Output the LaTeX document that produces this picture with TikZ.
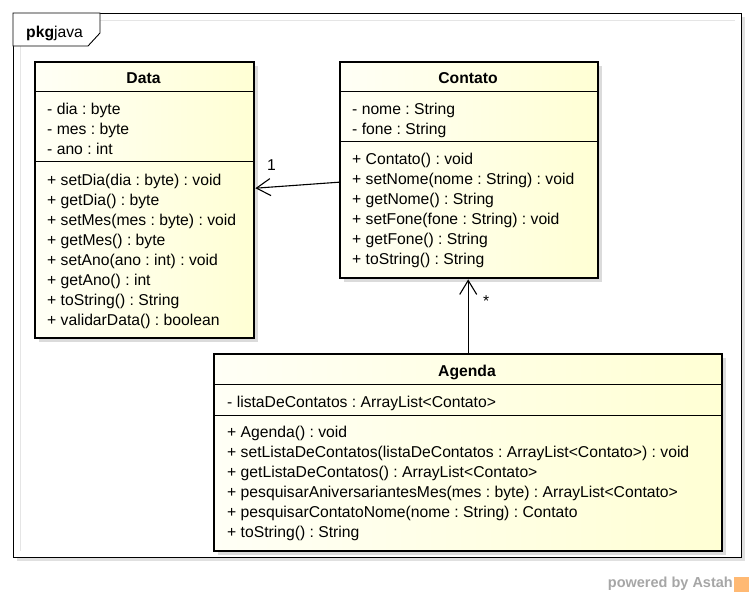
\documentclass[tikz,border=0pt]{standalone}
\usepackage{fontspec}
\setmainfont{Liberation Sans}
\usetikzlibrary{arrows.meta}
\frenchspacing

\begin{document}
\begin{tikzpicture}[x=1pt,y=-1pt,
  classbox/.style={draw=black,line width=2.4pt,left color=clsA,right color=clsB,anchor=north west,inner sep=0pt},
  member/.style={anchor=base west,inner sep=0pt,font=\fontsize{15.7}{18}\selectfont},
  ctitle/.style={anchor=base,inner sep=0pt,font=\fontsize{15.7}{18}\selectfont\bfseries},
  assoc/.style={line width=1.1pt,-{Straight Barb[length=14pt,width=17pt,line width=1.1pt]}}]
\definecolor{clsA}{RGB}{255,255,246}
\definecolor{clsB}{RGB}{255,255,212}
\useasboundingbox (0,0) rectangle (754,597);
% package frame
\fill[black!12] (17,17) rectangle (745,561);
\draw[line width=0.9pt,fill=white] (13,13) rectangle (741,557);
\draw[black!10] (100,20) -- (735,20);
\draw[black!10] (20,46) -- (20,551);
\draw[line width=0.9pt,fill=white] (13,13) -- (100,13) -- (100,33) -- (88,46) -- (13,46) -- cycle;
\node[anchor=base west,inner sep=0pt,font=\fontsize{15.7}{18}\selectfont] (pkg) at (26,37) {\textbf{pkg}java};
% Data
\fill[black!14] (39,66) rectangle (258,342);
\node[classbox,minimum width=219pt,minimum height=276pt] (data) at (34,61) {};
\node[ctitle] (dataT) at (143.5,83) {Data};
\draw[line width=0.9pt] (34,91) -- (253,91);
\draw[line width=0.9pt] (34,161) -- (253,161);
\node[member] (dataA1) at (47,114) {- dia : byte};
\node[member] (dataA2) at (47,134) {- mes : byte};
\node[member] (dataA3) at (47,154) {- ano : int};
\node[member] (dataM1) at (47,185) {+ setDia(dia : byte) : void};
\node[member] (dataM2) at (47,205) {+ getDia() : byte};
\node[member] (dataM3) at (47,225) {+ setMes(mes : byte) : void};
\node[member] (dataM4) at (47,245) {+ getMes() : byte};
\node[member] (dataM5) at (47,265) {+ setAno(ano : int) : void};
\node[member] (dataM6) at (47,285) {+ getAno() : int};
\node[member] (dataM7) at (47,305) {+ toString() : String};
\node[member] (dataM8) at (47,325) {+ validarData() : boolean};
% Contato
\fill[black!14] (344,66) rectangle (602,282);
\node[classbox,minimum width=258pt,minimum height=216pt] (contato) at (339,61) {};
\node[ctitle] (contatoT) at (468,83) {Contato};
\draw[line width=0.9pt] (339,91) -- (597,91);
\draw[line width=0.9pt] (339,141) -- (597,141);
\node[member] (contatoA1) at (352,114) {- nome : String};
\node[member] (contatoA2) at (352,134) {- fone : String};
\node[member] (contatoM1) at (352,164) {+ Contato() : void};
\node[member] (contatoM2) at (352,184) {+ setNome(nome : String) : void};
\node[member] (contatoM3) at (352,204) {+ getNome() : String};
\node[member] (contatoM4) at (352,224) {+ setFone(fone : String) : void};
\node[member] (contatoM5) at (352,244) {+ getFone() : String};
\node[member] (contatoM6) at (352,264) {+ toString() : String};
% Agenda
\fill[black!14] (218,358) rectangle (726,555);
\node[classbox,minimum width=508pt,minimum height=197pt] (agenda) at (213,353) {};
\node[ctitle] (agendaT) at (467,376) {Agenda};
\draw[line width=0.9pt] (213,384) -- (721,384);
\draw[line width=0.9pt] (213,415) -- (721,415);
\node[member] (agendaA1) at (227,407) {- listaDeContatos : ArrayList<Contato>};
\node[member] (agendaM1) at (227,437) {+ Agenda() : void};
\node[member] (agendaM2) at (227,457) {+ setListaDeContatos(listaDeContatos : ArrayList<Contato>) : void};
\node[member] (agendaM3) at (227,477) {+ getListaDeContatos() : ArrayList<Contato>};
\node[member] (agendaM4) at (227,497) {+ pesquisarAniversariantesMes(mes : byte) : ArrayList<Contato>};
\node[member] (agendaM5) at (227,517) {+ pesquisarContatoNome(nome : String) : Contato};
\node[member] (agendaM6) at (227,537) {+ toString() : String};
% associations
\draw[assoc] ([yshift=-12pt]contato.west) -- ([yshift=12pt]data.east);
\node[member] (mult1) at (267,170) {1};
\draw[assoc] (agenda.north) -- (agenda.north |- contato.south);
\node[member] (multN) at (483,306) {*};
% watermark
\node[anchor=east,inner sep=0pt,text=black!35,font=\fontsize{14.5}{16}\selectfont\bfseries] (astah) at (733,584) {powered by Astah};
\fill[orange!55] (734,577) rectangle (749,592);
\end{tikzpicture}
\end{document}
